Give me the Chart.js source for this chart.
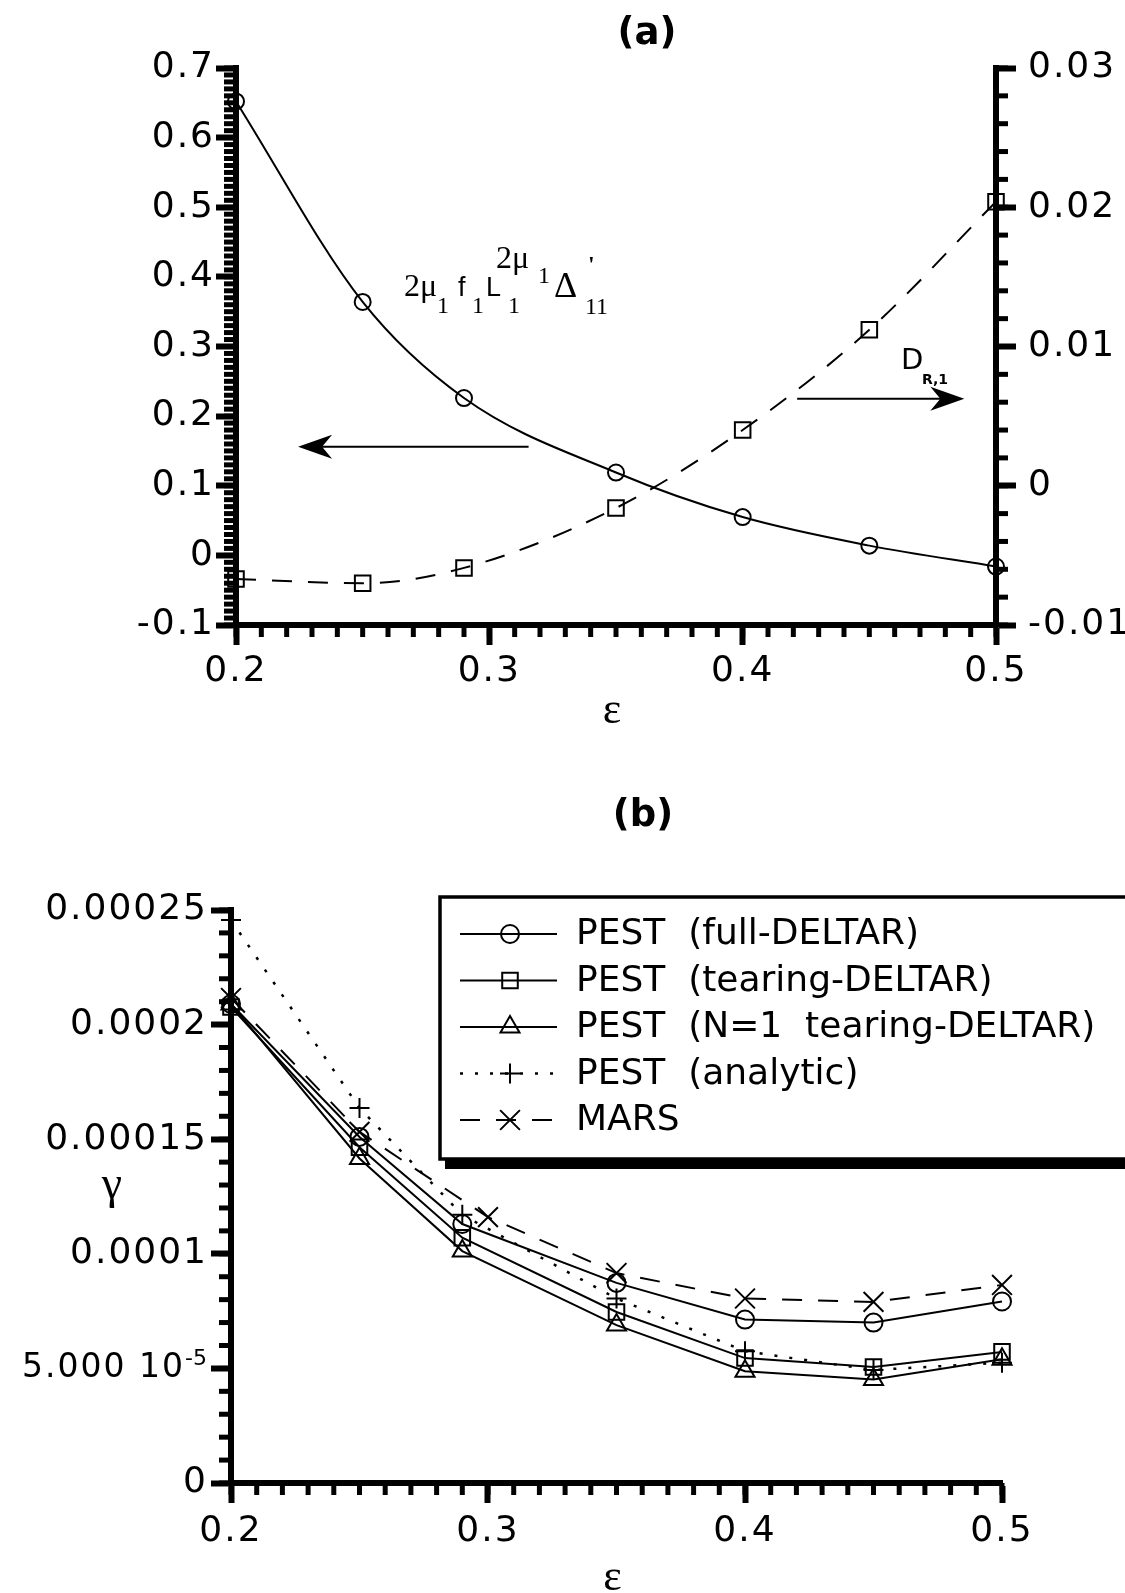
<!DOCTYPE html>
<html>
<head>
<meta charset="utf-8">
<script src="https://cdn.jsdelivr.net/npm/chart.js@4/dist/chart.umd.min.js"></script>
<style>
    html, body { margin: 0; padding: 0; background: #fff; }
    #pagina { position: relative; width: 1125px; height: 1593px; overflow: hidden; background: #fff; }
    canvas { position: absolute; left: 0; }
    .titulo { position: absolute; font: bold 37px 'DejaVu Sans'; line-height: 40px; transform: translateX(-50%); color: #000; }
</style>
</head>
<body>
<div id="pagina">
    <canvas id="grafico-a" width="1125" height="750" style="top:0"></canvas>
    <canvas id="grafico-b" width="1125" height="833" style="top:760px"></canvas>
    <div class="titulo" style="left:647px; top:12px">(a)</div>
    <div class="titulo" style="left:643px; top:794px">(b)</div>
</div>
<script>
// ---------- Datos panel (a) ----------
const epsA = [0.2, 0.25, 0.29, 0.35, 0.4, 0.45, 0.5];
const deltaA = [0.652, 0.364, 0.226, 0.119, 0.055, 0.014, -0.016];        // eje izquierdo
const dR1 = [-0.0067, -0.007, -0.0059, -0.0016, 0.004, 0.0112, 0.0204];     // eje derecho
const ticksXA = [0.2, 0.3, 0.4, 0.5];
const etiquetasXA = ['0.2', '0.3', '0.4', '0.5'];
const ticksIzqA = [-0.1, 0, 0.1, 0.2, 0.3, 0.4, 0.5, 0.6, 0.7];
const etiquetasIzqA = ['-0.1', '0', '0.1', '0.2', '0.3', '0.4', '0.5', '0.6', '0.7'];
const ticksDerA = [-0.01, 0, 0.01, 0.02, 0.03];
const etiquetasDerA = ['-0.01', '0', '0.01', '0.02', '0.03'];

// ---------- Datos panel (b) ----------
const epsB = [0.2, 0.25, 0.29, 0.35, 0.4, 0.45, 0.5];
const epsMars = [0.2, 0.25, 0.3, 0.35, 0.4, 0.45, 0.5];
const pestFull = [2.09e-4, 1.51e-4, 1.13e-4, 0.873e-4, 0.713e-4, 0.700e-4, 0.792e-4];
const pestTearing = [2.077e-4, 1.465e-4, 1.07e-4, 0.746e-4, 0.545e-4, 0.506e-4, 0.572e-4];
const pestN1 = [2.09e-4, 1.416e-4, 1.012e-4, 0.689e-4, 0.488e-4, 0.452e-4, 0.540e-4];
const pestAnalitico = [2.456e-4, 1.636e-4, 1.17e-4, 0.805e-4, 0.575e-4, 0.493e-4, 0.525e-4];
const mars = [2.116e-4, 1.532e-4, 1.16e-4, 0.916e-4, 0.805e-4, 0.79e-4, 0.864e-4];
const nombresB = ['PEST  (full-DELTAR)', 'PEST  (tearing-DELTAR)', 'PEST  (N=1  tearing-DELTAR)', 'PEST  (analytic)', 'MARS'];
const ticksXB = [0.2, 0.3, 0.4, 0.5];
const etiquetasXB = ['0.2', '0.3', '0.4', '0.5'];
const ticksYB = [0, 5e-5, 1e-4, 1.5e-4, 2e-4, 2.5e-4];
const etiquetasYB = ['0', '5.000 10\u2007', '0.0001', '0.00015', '0.0002', '0.00025'];
const exponenteYB = '-5';   // superíndice de la etiqueta 5.000 10

function etiqueta(valores, textos) {
    return v => {
        const i = valores.findIndex(t => Math.abs(t - v) < 1e-12);
        return i >= 0 ? textos[i] : '';
    };
}

function puntos(xs, ys) {
    return xs.map((x, i) => ({ x: x, y: ys[i] }));
}

function eje(min, max, paso, tamFuente, relleno, valores, textos) {
    return {
        type: 'linear',
        min: min,
        max: max,
        ticks: {
            stepSize: paso,
            autoSkip: false,
            maxRotation: 0,
            color: '#000',
            padding: relleno,
            font: { family: 'DejaVu Sans', size: tamFuente },
            callback: etiqueta(valores, textos)
        },
        grid: { drawOnChartArea: false, drawTicks: true, tickLength: 20, tickWidth: 6, tickColor: '#000' },
        border: { display: true, width: 6, color: '#000' }
    };
}

// letras de los ejes un poco más separadas (fuente ancha del original)
const espaciado = {
    id: 'espaciado',
    beforeDraw(chart) {
        chart.ctx.letterSpacing = '2px';
    }
};

// ---------- Marcas menores de los ejes ----------
const marcasMenores = {
    id: 'marcasMenores',
    beforeDatasetsDraw(chart, args, opciones) {
        const ctx = chart.ctx;
        ctx.save();
        ctx.strokeStyle = '#000';
        ctx.lineWidth = 5;
        Object.keys(opciones.pasos || {}).forEach(id => {
            const escala = chart.scales[id];
            const paso = opciones.pasos[id];
            if (!escala) return;
            const n = Math.round((escala.max - escala.min) / paso);
            for (let i = 0; i <= n; i++) {
                const p = escala.getPixelForValue(escala.min + i * paso);
                ctx.beginPath();
                if (escala.isHorizontal()) {
                    ctx.moveTo(p, escala.top);
                    ctx.lineTo(p, escala.top + 12);
                } else if (escala.position === 'left') {
                    ctx.moveTo(escala.right, p);
                    ctx.lineTo(escala.right - 12, p);
                } else {
                    ctx.moveTo(escala.left, p);
                    ctx.lineTo(escala.left + 12, p);
                }
                ctx.stroke();
            }
        });
        ctx.restore();
    }
};

function flecha(ctx, x1, x2, y) {
    // línea de x1 a la punta x2
    const dir = x2 > x1 ? -1 : 1;
    ctx.beginPath();
    ctx.moveTo(x1, y);
    ctx.lineTo(x2 + dir * 20, y);
    ctx.lineWidth = 2;
    ctx.stroke();
    ctx.beginPath();
    ctx.moveTo(x2, y);
    ctx.lineTo(x2 + dir * 34, y - 12);
    ctx.lineTo(x2 + dir * 24, y);
    ctx.lineTo(x2 + dir * 34, y + 12);
    ctx.closePath();
    ctx.fill();
}

// ---------- Textos y flechas del panel (a) ----------
const anotacionesA = {
    id: 'anotacionesA',
    afterDraw(chart) {
        const ctx = chart.ctx;
        const x = chart.scales.x, yI = chart.scales.y, yD = chart.scales.y2;
        ctx.save();
        ctx.letterSpacing = '0px';
        ctx.fillStyle = '#000';
        ctx.strokeStyle = '#000';
        ctx.textBaseline = 'alphabetic';
        ctx.textAlign = 'left';
        const piezas = [
            ['2\u03BC', 404, 296, '32px "Liberation Serif"'],
            ['1', 437, 313, '24px "Liberation Serif"'],
            ['f', 458, 296, '27px "Liberation Sans"'],
            ['1', 472, 313, '24px "Liberation Serif"'],
            ['L', 486, 296, '27px "Liberation Sans"'],
            ['1', 508, 313, '24px "Liberation Serif"'],
            ['2\u03BC', 496, 268, '32px "Liberation Serif"'],
            ['1', 538, 283, '24px "Liberation Serif"'],
            ['\u0394', 554, 297, '36px "Liberation Serif"'],
            ["'", 588, 272, 'bold 24px "Liberation Serif"'],
            ['11', 585, 314, '24px "Liberation Serif"'],
            ['D', 901, 369, '29px "DejaVu Sans"'],
            ['R,1', 922, 384, 'bold 14px "DejaVu Sans"']
        ];
        piezas.forEach(([t, px, py, f]) => {
            ctx.font = f;
            ctx.fillText(t, px, py);
        });
        // flechas que indican el eje de cada curva
        flecha(ctx, x.getPixelForValue(0.3155), x.getPixelForValue(0.2245), yI.getPixelForValue(0.156));
        flecha(ctx, x.getPixelForValue(0.4215), x.getPixelForValue(0.4875), yD.getPixelForValue(0.00625));
        // épsilon
        ctx.font = '44px "Liberation Serif"';
        ctx.textAlign = 'center';
        ctx.fillText('\u03B5', (chart.chartArea.left + chart.chartArea.right) / 2 - 4, 723);
        ctx.restore();
    }
};

function dibujarMarcador(ctx, estilo, r, cx, cy) {
    ctx.beginPath();
    if (estilo === 'circle') {
        ctx.arc(cx, cy, r, 0, Math.PI * 2);
    } else if (estilo === 'rect') {
        const s = r * Math.SQRT1_2;
        ctx.rect(cx - s, cy - s, 2 * s, 2 * s);
    } else if (estilo === 'triangle') {
        ctx.moveTo(cx, cy - r);
        ctx.lineTo(cx + r * 0.866, cy + r / 2);
        ctx.lineTo(cx - r * 0.866, cy + r / 2);
        ctx.closePath();
    } else if (estilo === 'cross') {
        ctx.moveTo(cx - r, cy); ctx.lineTo(cx + r, cy);
        ctx.moveTo(cx, cy - r); ctx.lineTo(cx, cy + r);
    } else if (estilo === 'crossRot') {
        const d = r * Math.SQRT1_2;
        ctx.moveTo(cx - d, cy - d); ctx.lineTo(cx + d, cy + d);
        ctx.moveTo(cx - d, cy + d); ctx.lineTo(cx + d, cy - d);
    }
    ctx.stroke();
}

// ---------- Leyenda y textos del panel (b) ----------
const leyendaB = {
    id: 'leyendaB',
    afterDraw(chart) {
        const ctx = chart.ctx;
        ctx.save();
        ctx.letterSpacing = '0px';
        // caja con sombra
        const bx = 440, by = 137, bw = 720, bh = 262;
        ctx.fillStyle = '#000';
        ctx.fillRect(bx + 5, by + 5, bw, bh + 5);
        ctx.fillStyle = '#fff';
        ctx.fillRect(bx, by, bw, bh);
        ctx.strokeStyle = '#000';
        ctx.lineWidth = 3.5;
        ctx.strokeRect(bx, by, bw, bh);

        chart.data.datasets.forEach((ds, i) => {
            const y = 174 + i * 46.5;
            ctx.strokeStyle = '#000';
            ctx.lineWidth = ds.borderWidth;
            ctx.setLineDash(ds.borderDash || []);
            ctx.beginPath();
            ctx.moveTo(460, y);
            ctx.lineTo(557, y);
            ctx.stroke();
            ctx.setLineDash([]);
            ctx.lineWidth = ds.pointBorderWidth;
            dibujarMarcador(ctx, ds.pointStyle, ds.pointRadius, 510, y);
            ctx.fillStyle = '#000';
            ctx.font = '36px "DejaVu Sans"';
            ctx.textAlign = 'left';
            ctx.textBaseline = 'middle';
            ctx.fillText(nombresB[i], 576, y + 1);
        });

        // superíndice de la etiqueta 5.000 10^-5
        const ejeY = chart.scales.y;
        ctx.font = '22px "DejaVu Sans"';
        ctx.textAlign = 'right';
        ctx.textBaseline = 'alphabetic';
        ctx.fillText(exponenteYB, ejeY.right - 24, ejeY.getPixelForValue(5e-5) - 3);

        ctx.textAlign = 'center';
        ctx.font = '46px "Liberation Serif"';
        ctx.fillText('\u03B3', 112, 438);
        ctx.font = '44px "Liberation Serif"';
        ctx.fillText('\u03B5', (chart.chartArea.left + chart.chartArea.right) / 2 - 4, 830);
        ctx.restore();
    }
};

// ---------- Gráfico (a) ----------
const ejeXA = eje(0.2, 0.5, 0.1, 36, 5, ticksXA, etiquetasXA);
ejeXA.position = 'bottom';
ejeXA.afterFit = s => { s.height = 125; s.paddingLeft = 0; s.paddingRight = 0; };
const ejeIzqA = eje(-0.1, 0.7, 0.1, 36, 1, ticksIzqA, etiquetasIzqA);
ejeIzqA.position = 'left';
ejeIzqA.afterFit = s => { s.width = 236; s.paddingTop = 0; s.paddingBottom = 0; };
const ejeDerA = eje(-0.01, 0.03, 0.01, 36, 12, ticksDerA, etiquetasDerA);
ejeDerA.position = 'right';
ejeDerA.afterFit = s => { s.width = 129; s.paddingTop = 0; s.paddingBottom = 0; };

new Chart(document.getElementById('grafico-a').getContext('2d'), {
    type: 'line',
    data: {
        datasets: [
            {
                label: 'delta',
                data: puntos(epsA, deltaA),
                yAxisID: 'y',
                borderColor: '#000',
                borderWidth: 2,
                cubicInterpolationMode: 'monotone',
                pointStyle: 'circle',
                pointRadius: 8,
                pointBorderWidth: 2,
                pointBorderColor: '#000',
                pointBackgroundColor: 'rgba(0,0,0,0)',
                fill: false,
                clip: false
            },
            {
                label: 'DR1',
                data: puntos(epsA, dR1),
                yAxisID: 'y2',
                borderColor: '#000',
                borderWidth: 2,
                borderDash: [20, 16],
                cubicInterpolationMode: 'monotone',
                pointStyle: 'rect',
                pointRadius: 11,
                pointBorderWidth: 2,
                pointBorderColor: '#000',
                pointBackgroundColor: 'rgba(0,0,0,0)',
                fill: false,
                clip: false
            }
        ]
    },
    options: {
        responsive: false,
        animation: false,
        devicePixelRatio: 1,
        layout: { padding: { top: 68, left: 0, right: 0, bottom: 0 } },
        plugins: {
            legend: { display: false },
            tooltip: { enabled: false },
            marcasMenores: { pasos: { x: 0.01, y: 0.01, y2: 0.002 } }
        },
        scales: { x: ejeXA, y: ejeIzqA, y2: ejeDerA }
    },
    plugins: [espaciado, marcasMenores, anotacionesA]
});

// ---------- Gráfico (b) ----------
const ejeXB = eje(0.2, 0.5, 0.1, 36, 7, ticksXB, etiquetasXB);
ejeXB.position = 'bottom';
ejeXB.afterFit = s => { s.height = 110; s.paddingLeft = 0; s.paddingRight = 0; };
const ejeYB = eje(0, 0.00025, 0.00005, 36, 3, ticksYB, etiquetasYB);
ejeYB.position = 'left';
// la etiqueta con exponente va algo más estrecha
ejeYB.ticks.font = c => ({
    family: 'DejaVu Sans',
    size: (c.tick && Math.abs(c.tick.value - 5e-5) < 1e-12) ? 33 : 36
});
ejeYB.afterFit = s => { s.width = 231; s.paddingTop = 0; s.paddingBottom = 0; };

function serieB(datos, xs, estilo, radio, guiones, ancho) {
    return {
        data: puntos(xs, datos),
        borderColor: '#000',
        borderWidth: ancho,
        borderDash: guiones,
        tension: 0,
        pointStyle: estilo,
        pointRadius: radio,
        pointBorderWidth: 2,
        pointBorderColor: '#000',
        pointBackgroundColor: 'rgba(0,0,0,0)',
        fill: false,
        clip: false
    };
}

new Chart(document.getElementById('grafico-b').getContext('2d'), {
    type: 'line',
    data: {
        datasets: [
            serieB(pestFull, epsB, 'circle', 9, [], 2),
            serieB(pestTearing, epsB, 'rect', 11, [], 2),
            serieB(pestN1, epsB, 'triangle', 11, [], 2),
            serieB(pestAnalitico, epsB, 'cross', 10, [3, 12], 2.5),
            serieB(mars, epsMars, 'crossRot', 14, [20, 16], 2)
        ]
    },
    options: {
        responsive: false,
        animation: false,
        devicePixelRatio: 1,
        layout: { padding: { top: 150, left: 0, right: 123, bottom: 0 } },
        plugins: {
            legend: { display: false },
            tooltip: { enabled: false },
            marcasMenores: { pasos: { x: 0.01, y: 0.00001 } }
        },
        scales: { x: ejeXB, y: ejeYB }
    },
    plugins: [espaciado, marcasMenores, leyendaB]
});
</script>
</body>
</html>
